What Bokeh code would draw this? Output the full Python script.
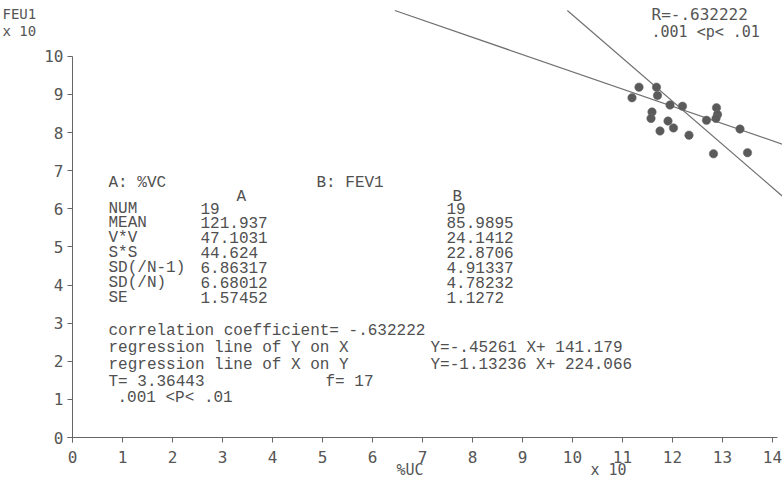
from bokeh.plotting import figure
from bokeh.models import Range1d, FixedTicker
from bokeh.core.properties import value
from bokeh.embed import file_html
from bokeh.resources import INLINE

# ---- data (original units) ----
vc = [113.3, 116.8, 117.0, 111.9, 119.5, 122.0, 128.8, 115.9, 129.0, 115.7,
      128.7, 126.8, 119.1, 120.2, 133.5, 117.5, 123.3, 128.2, 135.0]
fev1 = [91.9, 91.9, 89.7, 89.1, 87.2, 86.9, 86.5, 85.4, 84.7, 83.7,
        83.7, 83.2, 83.0, 81.2, 80.9, 80.4, 79.3, 74.4, 74.7]

# regression lines: Y = slope*X + intercept (original units)
yx_slope, yx_icpt = -0.45261, 141.179
xy_slope, xy_icpt = -1.13236, 224.066

x_ticks = list(range(0, 15))
y_ticks = list(range(0, 11))

stat_names = ["NUM", "MEAN", "V*V", "S*S", "SD(/N-1)", "SD(/N)", "SE"]
stat_a = ["19", "121.937", "47.1031", "44.624", "6.86317", "6.68012", "1.57452"]
stat_b = ["19", "85.9895", "24.1412", "22.8706", "4.91337", "4.78232", "1.1272"]

SCALE = 10.0

# ---- figure: frame covers the whole canvas, axes fixed at the origin ----
W, H = 782, 491
X0_PX, Y0_PX = 72, 437          # pixel of the data origin
PX_X, PX_Y = 50.0, 38.125       # pixels per unit
XMAX, YTOP = 14.2, 11.2         # where the plotted lines stop

p = figure(width=W, height=H, output_backend="svg", toolbar_location=None,
           x_range=Range1d(-X0_PX / PX_X, (W - X0_PX) / PX_X),
           y_range=Range1d(-(H - Y0_PX) / PX_Y, Y0_PX / PX_Y),
           min_border=0)
p.outline_line_color = None
p.grid.visible = False
p.background_fill_color = "white"
p.border_fill_color = "white"


def dx(px):
    return (px - X0_PX) / PX_X


def dy(py):
    return (Y0_PX - py) / PX_Y


p.xaxis.fixed_location = 0
p.yaxis.fixed_location = 0
p.xaxis.ticker = FixedTicker(ticks=x_ticks)
p.yaxis.ticker = FixedTicker(ticks=y_ticks)
p.xaxis.bounds = (-0.1, 14.1)
p.yaxis.bounds = (-0.12, 10)
for ax in (p.xaxis, p.yaxis):
    ax.axis_line_color = "#666666"
    ax.axis_line_width = 1
    ax.major_tick_line_color = "#666666"
    ax.major_tick_out = 5
    ax.major_tick_in = 0
    ax.minor_tick_line_color = None
    ax.major_label_text_font = "DejaVu Sans Mono"
    ax.major_label_text_font_size = "16px"
    ax.major_label_text_color = "#555555"
p.xaxis.major_label_standoff = 8
p.yaxis.major_label_standoff = 4

# regression lines, drawn from the top of the plot area to the right edge
for slope, icpt in ((yx_slope, yx_icpt), (xy_slope, xy_icpt)):
    x_start = (YTOP * SCALE - icpt) / slope / SCALE
    lx = [x_start, XMAX]
    p.line(lx, [slope * v + icpt / SCALE for v in lx], line_color="#707070", line_width=1.2)

# points
p.scatter([v / SCALE for v in vc], [v / SCALE for v in fev1], size=8.5,
          fill_color="#5a5a5a", line_color="#6a6a6a", line_width=0.5)

mono = value("Liberation Mono")
sans_mono = value("DejaVu Sans Mono")
tc = "#505050"


def txt(px, py, s, font=mono, size="16px", color=tc):
    p.text(x=[dx(px)], y=[dy(py)], text=[s], text_font=font, text_font_size=size,
           text_color=color, text_align="left", text_baseline="middle")


txt(108, 182, "A: %VC")
txt(316, 182, "B: FEV1")
txt(236, 196, "A")
txt(452, 196, "B")
row_y = [208, 222, 237, 252, 267, 282, 297]
for name, a, b, yy in zip(stat_names, stat_a, stat_b, row_y):
    txt(108, yy, name)
    txt(200, yy, a)
    txt(446, yy, b)

txt(108, 330, "correlation coefficient= -.632222")
txt(108, 347, "regression line of Y on X")
txt(430, 347, "Y=-.45261 X+ 141.179")
txt(108, 364, "regression line of X on Y")
txt(430, 364, "Y=-1.13236 X+ 224.066")
txt(108, 381, "T= 3.36443")
txt(325, 381, "f= 17")
txt(117, 397, ".001 <P< .01")

lab_col = "#555555"
txt(2, 13, "FEU1", font=sans_mono, size="14px", color=lab_col)
txt(2, 30, "x 10", font=sans_mono, size="14px", color=lab_col)
txt(651, 14, "R=-.632222", font=sans_mono, size="16px", color=lab_col)
txt(651, 31, ".001 <p< .01", font=sans_mono, size="15px", color=lab_col)
txt(396, 469, "%UC", font=sans_mono, size="15px", color=lab_col)
txt(590, 469, "x 10", font=sans_mono, size="15px", color=lab_col)

open("out.html", "w").write(file_html(p, INLINE))
